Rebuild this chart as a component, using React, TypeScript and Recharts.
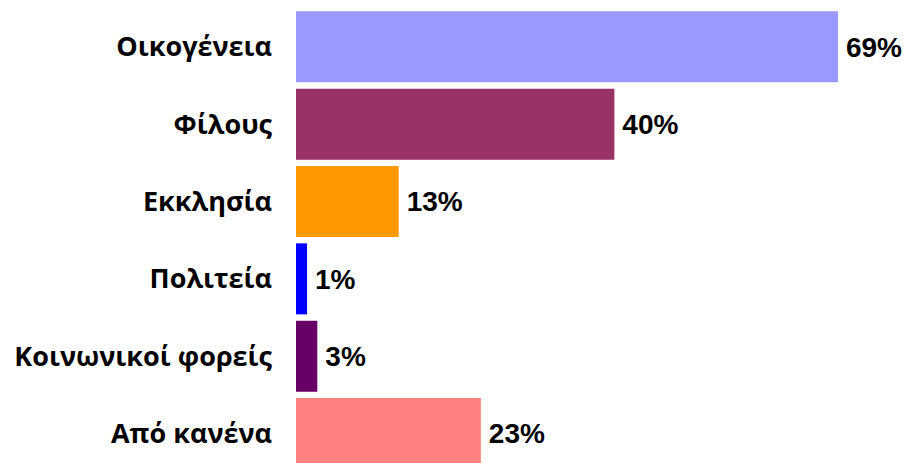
import React from "react";
import { BarChart, Bar, XAxis, YAxis, Cell, LabelList } from "recharts";

const categories = ["Οικογένεια", "Φίλους", "Εκκλησία", "Πολιτεία", "Κοινωνικοί φορείς", "Από κανένα"];
const values = [68.6, 40.3, 13.0, 1.4, 2.7, 23.4];
const colors = ["#9999FF", "#993366", "#FF9900", "#0000FF", "#660066", "#FF8080"];

const data = categories.map((name, i) => ({ name, value: values[i] }));

const pct = (v: any) => `${Math.round(Number(v))}%`;

export default function App() {
  return (
    <div style={{ width: 902, height: 455, overflow: "hidden" }}>
      <style>{"html,body{overflow:hidden}"}</style>
      <BarChart
        width={902}
        height={464}
        data={data}
        layout="vertical"
        margin={{ top: 0, right: 21.5, bottom: 0, left: 0 }}
        barCategoryGap={3.35}
      >
        <XAxis type="number" domain={[0, 75]} hide />
        <YAxis
          type="category"
          dataKey="name"
          width={288}
          tickLine={false}
          axisLine={false}
          tickSize={0}
          tickMargin={24}
          interval={0}
          tick={{ fill: "#000", fontSize: 27, fontWeight: "bold", fontFamily: "'Open Sans', sans-serif" }}
        />
        <Bar dataKey="value" isAnimationActive={false}>
          {data.map((d, i) => (
            <Cell key={d.name} fill={colors[i]} />
          ))}
          <LabelList
            dataKey="value"
            position="right"
            offset={8}
            formatter={pct}
            fill="#000"
            style={{ fontSize: 28, fontWeight: "bold", fontFamily: "'Liberation Sans', Arial, sans-serif" }}
          />
        </Bar>
      </BarChart>
    </div>
  );
}
